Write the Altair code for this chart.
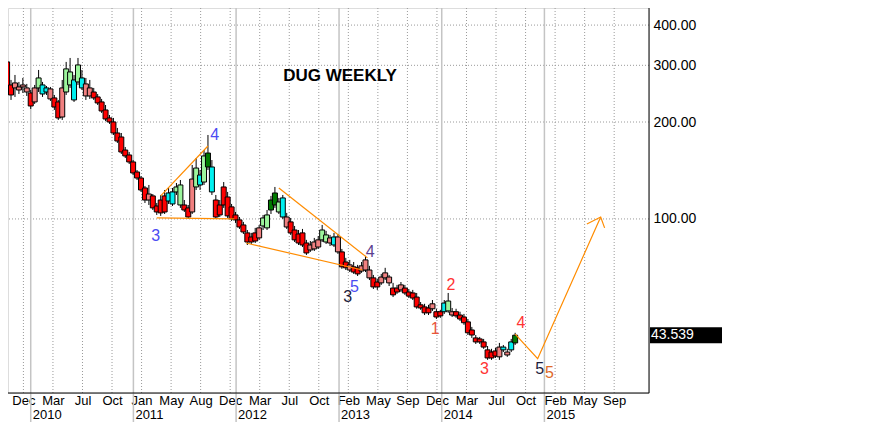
import altair as alt
import pandas as pd

W, H = 641, 385

# ---------------- weekly candles (sampled every second week) ----------------
first_week = "2009-10-09 12:00"
opens = [307.4, 260.7, 255.2, 251.5, 257.0, 255.2, 246.2, 230.9, 255.2, 260.7,
         255.2, 235.9, 237.6, 230.9, 207.3, 247.9, 260.7, 270.2, 266.4, 274.1,
         262.6, 255.2, 247.9, 239.3, 230.9, 218.0, 205.9, 200.1, 184.9, 179.7,
         163.7, 158.0, 150.3, 139.9, 134.0, 124.8, 114.5, 117.9, 109.7, 114.5,
         117.9, 120.4, 121.3, 121.3, 110.5, 110.5, 108.2, 105.1, 125.7, 136.9,
         130.2, 145.0, 145.0, 114.5, 110.5, 125.7, 117.0, 109.0, 102.9, 99.3,
         95.8, 90.5, 87.9, 90.5, 87.3, 95.1, 93.8, 106.6, 110.5, 105.1,
         116.2, 94.4, 97.9, 92.4, 89.8, 90.5, 84.2, 80.1, 80.7, 81.8,
         86.1, 84.8, 84.2, 87.9, 79.0, 79.0, 73.5, 69.4, 71.0, 70.5,
         68.9, 69.4, 65.6, 65.6, 63.7, 63.3, 65.6, 63.3, 61.0, 61.0,
         60.2, 61.0, 59.3, 58.9, 57.2, 54.1, 53.3, 52.9, 52.6, 51.5,
         51.5, 54.8, 51.8, 50.3, 51.5, 50.3, 49.6, 47.9, 45.2, 42.7,
         42.4, 41.5, 39.2, 38.6, 38.9, 37.3, 40.0, 38.6, 39.2, 41.2]
closes = [247.9, 242.7, 264.5, 257.0, 260.7, 247.9, 224.3, 255.2, 274.1, 244.4,
          247.9, 253.4, 222.7, 205.9, 255.2, 292.4, 286.1, 234.2, 300.8, 255.2,
          241.0, 241.0, 237.6, 229.2, 216.4, 204.4, 200.1, 184.9, 174.6, 161.4,
          156.9, 150.3, 138.9, 134.0, 123.0, 114.5, 119.5, 108.2, 105.1, 104.4,
          105.1, 113.7, 111.3, 125.7, 127.5, 106.6, 101.4, 133.0, 143.9, 127.5,
          156.9, 160.2, 121.3, 101.4, 102.9, 110.5, 102.2, 100.0, 99.3, 94.4,
          91.1, 84.8, 84.8, 85.4, 93.8, 100.7, 102.9, 114.5, 120.4, 112.9,
          101.4, 101.4, 90.5, 86.1, 84.2, 83.0, 78.4, 83.0, 84.8, 86.1,
          92.4, 89.2, 87.3, 83.0, 87.9, 71.0, 70.5, 72.0, 68.4, 67.5,
          71.5, 74.6, 69.4, 61.5, 61.5, 66.0, 68.0, 66.0, 58.1, 59.3,
          62.4, 58.9, 57.6, 56.8, 53.3, 52.9, 51.1, 51.1, 54.5, 49.6,
          50.0, 51.5, 55.6, 51.5, 50.0, 48.9, 47.6, 44.3, 43.6, 41.5,
          41.5, 40.0, 37.0, 37.0, 37.5, 40.0, 39.2, 37.8, 41.5, 43.539]
highs = [323.1, 270.2, 280.0, 266.4, 274.1, 262.6, 251.5, 260.7, 290.2, 266.4,
         258.8, 257.0, 242.7, 234.2, 270.2, 307.4, 316.2, 280.0, 316.2, 290.2,
         274.1, 270.2, 255.2, 244.4, 235.9, 225.9, 210.3, 205.9, 191.7, 184.9,
         167.3, 161.4, 152.4, 141.9, 135.9, 126.6, 127.5, 119.5, 112.1, 118.7,
         123.0, 124.8, 124.8, 129.3, 132.1, 114.5, 110.5, 147.1, 154.6, 141.9,
         163.7, 182.3, 152.4, 118.7, 114.5, 130.2, 121.3, 111.3, 105.1, 101.4,
         97.9, 92.4, 90.5, 93.8, 95.8, 102.9, 106.6, 117.9, 125.7, 116.2,
         118.7, 104.4, 100.7, 95.1, 92.4, 93.1, 86.1, 85.4, 87.3, 88.5,
         95.8, 91.8, 89.2, 90.5, 89.8, 80.7, 75.7, 74.6, 73.5, 72.0,
         73.5, 76.8, 71.5, 67.0, 65.1, 67.5, 70.5, 67.0, 63.3, 62.4,
         63.7, 62.4, 60.6, 60.2, 58.9, 55.2, 54.5, 54.1, 56.0, 52.6,
         52.2, 56.0, 58.9, 52.9, 52.6, 51.5, 50.7, 48.9, 46.2, 43.6,
         43.0, 42.4, 40.3, 39.5, 39.8, 41.2, 40.6, 39.5, 42.4, 44.3]
lows = [239.3, 234.2, 239.3, 244.4, 246.2, 241.0, 219.6, 227.6, 247.9, 239.3,
        242.7, 232.5, 218.0, 203.0, 203.0, 242.7, 255.2, 230.9, 260.7, 251.5,
        234.2, 235.9, 234.2, 225.9, 213.4, 201.5, 197.3, 182.3, 172.2, 159.1,
        154.6, 148.1, 136.9, 132.1, 121.3, 112.1, 110.5, 106.6, 102.9, 102.2,
        103.6, 111.3, 109.7, 118.7, 108.2, 105.1, 100.0, 103.6, 123.0, 123.0,
        127.5, 141.9, 118.7, 100.0, 101.4, 108.2, 100.7, 98.6, 97.2, 93.1,
        89.8, 83.0, 83.6, 84.2, 86.1, 92.4, 92.4, 103.6, 108.2, 103.6,
        100.0, 93.1, 89.2, 84.8, 83.0, 81.8, 77.3, 79.0, 79.5, 80.7,
        84.8, 83.6, 82.4, 81.8, 77.9, 70.0, 69.4, 68.4, 67.5, 66.5,
        68.0, 68.4, 64.6, 60.6, 60.2, 62.4, 64.6, 61.9, 57.2, 58.5,
        59.3, 58.1, 56.8, 56.0, 52.6, 52.2, 50.3, 50.3, 51.8, 48.9,
        49.3, 50.7, 51.1, 49.6, 49.3, 48.2, 46.9, 43.6, 42.7, 40.9,
        40.9, 39.5, 36.5, 36.5, 37.0, 36.5, 38.6, 37.3, 38.6, 40.6]
# candle colouring class: r=red, s=salmon, g=light green, c=cyan, d=dark green
tones = ["r", "r", "s", "s", "s", "s", "r", "s", "g", "c",
         "c", "s", "r", "r", "s", "g", "g", "c", "g", "c",
         "s", "s", "r", "r", "r", "r", "r", "r", "r", "r",
         "r", "r", "r", "r", "r", "r", "s", "r", "r", "r",
         "r", "c", "c", "g", "g", "r", "r", "s", "g", "c",
         "g", "d", "c", "r", "r", "r", "r", "r", "r", "r",
         "r", "r", "r", "r", "s", "g", "g", "d", "d", "g",
         "c", "s", "r", "r", "r", "r", "r", "s", "s", "s",
         "g", "g", "s", "c", "s", "r", "r", "s", "r", "r",
         "s", "s", "s", "r", "r", "s", "s", "s", "r", "r",
         "s", "r", "r", "r", "r", "r", "r", "r", "s", "r",
         "r", "c", "g", "s", "r", "r", "r", "r", "r", "r",
         "r", "r", "r", "r", "r", "s", "c", "s", "c", "d"]
tone_names = ["r", "s", "g", "c", "d"]
tone_colors = ["#ff0000", "#f08080", "#9cf59c", "#00f0f0", "#007a00"]

# ---------------- axis labels ----------------
tick_dates = ["2009-12-06", "2010-03-21", "2010-07-04", "2010-10-17", "2011-01-30",
              "2011-05-15", "2011-08-28", "2011-12-11", "2012-03-25", "2012-07-08",
              "2012-10-21", "2013-02-03", "2013-05-19", "2013-09-01", "2013-12-15",
              "2014-03-30", "2014-07-13", "2014-10-26", "2015-02-08", "2015-05-24",
              "2015-09-06"]
year_starts = ["2010-01-01", "2011-01-01", "2012-01-01", "2013-01-01", "2014-01-01", "2015-01-01"]
year_labels = ["2010", "2011", "2012", "2013", "2014", "2015"]
price_ticks = [100, 200, 300, 400, 500]
x_domain = ["2009-10-30", "2015-12-21"]
y_domain = [28.8, 452]

# ---------------- annotations ----------------
line_seg = ["A", "A", "B", "B", "C", "C", "D", "D", "E", "E", "E", "F", "F", "F"]
line_date = ["2011-04-08", "2011-09-23", "2011-03-25", "2011-12-26",
             "2012-02-06", "2013-03-25", "2012-06-01", "2013-04-12",
             "2014-09-19", "2014-12-08", "2015-07-20",
             "2015-06-01", "2015-07-20", "2015-08-03"]
line_price = [117.9, 168.5, 100.7, 100.0, 84.2, 69.4, 124.8, 75.7,
              43.9, 36.8, 101.4, 96.5, 101.4, 93.8]

wave_text = ["3", "4", "5", "3", "4", "1", "2", "3", "4", "5", "5"]
wave_date = ["2011-03-21", "2011-10-17", "2013-02-25", "2013-02-01", "2013-04-22",
             "2013-12-09", "2014-02-03", "2014-06-02", "2014-10-10", "2014-12-15", "2015-01-19"]
wave_price = [88.5, 182.3, 61.5, 57.2, 79.0, 45.6, 62.4, 34.2, 47.6, 34.2, 33.3]
wave_set = ["blue", "blue", "blue", "dark", "purple", "orange", "red", "red", "red", "dark", "amber"]
wave_names = ["blue", "dark", "purple", "orange", "red", "amber"]
wave_colors = ["#4b4bf2", "#1c1c3c", "#5b3f8f", "#e8553a", "#ff3333", "#e06a28"]


def dt(s):
    y, m, d = (int(v) for v in s.split("-"))
    return alt.DateTime(year=y, month=m, date=d, hours=12)


def as_dates(lst):
    return pd.to_datetime([d + " 12:00" for d in lst])


candles = pd.DataFrame({
    "date": pd.date_range(first_week, periods=len(closes), freq="14D"),
    "open": opens, "close": closes, "high": highs, "low": lows, "tone": tones,
})
lines = pd.DataFrame({"seg": line_seg, "date": as_dates(line_date),
                      "price": line_price, "k": list(range(len(line_seg)))})
waves = pd.DataFrame({"t": wave_text, "date": as_dates(wave_date),
                      "price": wave_price, "set": wave_set})
years = pd.DataFrame({"date": as_dates(year_starts), "label": year_labels})
vgrid = pd.DataFrame({"date": as_dates(tick_dates)})
hgrid = pd.DataFrame({"price": price_ticks})
last = pd.DataFrame({"price": [closes[-1]], "label": [f"{closes[-1]:.3f}"]})

FONT = "Liberation Sans"
GRID = "#9a9a9a"
xscale = alt.Scale(domain=[dt(d) for d in x_domain], nice=False)
yscale = alt.Scale(type="log", domain=y_domain, nice=False)
x_axis = alt.Axis(values=[dt(d) for d in tick_dates], format="%b", title=None, labelFontSize=13,
                  labelFont=FONT, labelColor="black", ticks=False, domain=False, grid=False,
                  labelPadding=1, labelOverlap=False, labelFlush=False)
y_axis = alt.Axis(orient="right", values=price_ticks, format=".2f", title=None, labelFontSize=14,
                  labelFont=FONT, labelColor="black", ticks=False, domain=False, grid=False,
                  labelPadding=4, labelOverlap=False)

X = alt.X("date:T", scale=xscale, axis=x_axis)


def Y(field):
    return alt.Y(field, scale=yscale, axis=y_axis)


vgrid_l = alt.Chart(vgrid).mark_rule(color=GRID, strokeDash=[1, 2], strokeWidth=1).encode(x=X)
hgrid_l = alt.Chart(hgrid).mark_rule(color=GRID, strokeDash=[1, 2], strokeWidth=1, clip=True).encode(
    y=Y("price:Q"))

year_rules = alt.Chart(years).mark_rule(color="#c4c4c4", strokeWidth=1.5).encode(
    x=X, y=alt.value(0), y2=alt.value(H + 29))
year_text = alt.Chart(years).mark_text(align="left", baseline="middle", dx=2, fontSize=13,
                                       font=FONT, color="black").encode(
    x=X, y=alt.value(H + 22), text="label:N")

wicks = alt.Chart(candles).mark_rule(color="black", strokeWidth=1, clip=True).encode(
    x=X, y=Y("low:Q"), y2="high:Q")
bodies = alt.Chart(candles).mark_bar(width=5, stroke="black", strokeWidth=1, clip=True).encode(
    x=X, y=Y("open:Q"), y2="close:Q",
    color=alt.Color("tone:N", scale=alt.Scale(domain=tone_names, range=tone_colors), legend=None))

orange = alt.Chart(lines).mark_line(color="#ff8c00", strokeWidth=1.2, clip=True).encode(
    x=X, y=Y("price:Q"), detail="seg:N", order="k:Q")

wave_lbl = alt.Chart(waves).mark_text(fontSize=16, font=FONT, baseline="middle").encode(
    x=X, y=Y("price:Q"), text="t:N",
    color=alt.Color("set:N", scale=alt.Scale(domain=wave_names, range=wave_colors), legend=None))

title = alt.Chart(last).mark_text(text="DUG WEEKLY", fontSize=17, fontWeight="bold", font=FONT,
                                  color="black").encode(x=alt.value(332), y=alt.value(68))

frame_b = alt.Chart(last).mark_rule(color="black", strokeWidth=1).encode(
    x=alt.value(0), x2=alt.value(W), y=alt.value(H))
frame_r = alt.Chart(last).mark_rule(color="black", strokeWidth=1).encode(
    x=alt.value(W), y=alt.value(0), y2=alt.value(H))

box = alt.Chart(last).mark_rect(color="black", height=16).encode(
    x=alt.value(W + 1), x2=alt.value(W + 73), y=Y("price:Q"))
box_txt = alt.Chart(last).mark_text(align="left", baseline="middle", fontSize=14, font=FONT,
                                    color="white").encode(
    x=alt.value(W + 2), y=Y("price:Q"), text="label:N")

chart = alt.layer(vgrid_l, hgrid_l, year_rules, wicks, bodies, orange, wave_lbl, year_text, title,
                  frame_b, frame_r, box, box_txt).resolve_scale(color="independent").properties(
    width=W, height=H,
    autosize=alt.AutoSizeParams(type="none"),
    padding={"left": 0, "top": 0, "right": 222, "bottom": 32},
).configure_view(stroke=None).configure(background="white")

chart.save("out.html", embed_options={"renderer": "svg", "actions": False})
